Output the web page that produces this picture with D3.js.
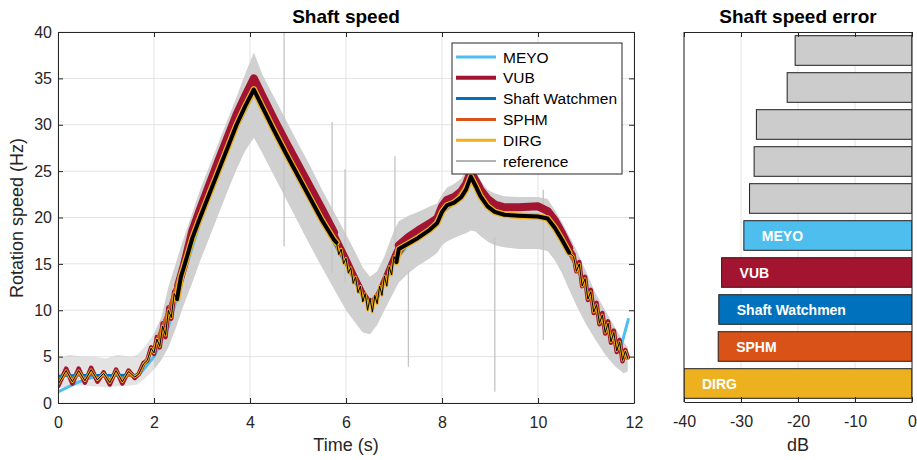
<!DOCTYPE html>
<html><head><meta charset="utf-8">
<script src="https://cdn.jsdelivr.net/npm/d3@7"></script>
<style>
body{margin:0;background:#fff}
svg{display:block}
text{font-family:"Liberation Sans",Arial,Helvetica,sans-serif}
</style>
</head><body>
<svg id="chart" width="917" height="460"></svg>
<script>
// ---------- DATA ----------
// reference (gray) band: envelope
const refTime = [0,0.25,0.5,0.75,1.0,1.25,1.5,1.65,1.8,2.0,2.15,2.3,2.45,2.6,2.8,2.96,3.15,3.34,3.53,3.72,3.9,4.08,4.25,4.5,4.75,5.0,5.25,5.5,5.75,6.0,6.2,6.35,6.5,6.65,6.8,7.0,7.1,7.3,7.5,7.75,7.9,8.0,8.1,8.25,8.4,8.5,8.6,8.7,8.8,8.95,9.1,9.3,9.6,10.0,10.2,10.35,10.5,10.65,10.8,11.0,11.2,11.4,11.6,11.78,11.87];
const refUpper = [4.8,5.2,5.0,5.0,4.8,5.2,5.0,5.2,6.0,7.5,9.2,12.5,15.0,17.5,20.5,23.0,25.5,28.0,30.5,33.0,35.5,37.8,35.5,33.0,30.5,28.0,25.6,23.0,20.6,18.2,16.2,14.6,13.6,14.2,15.8,18.6,19.6,20.2,20.6,21.2,21.5,22.5,23.2,23.6,24.2,25.0,26.2,25.0,24.0,23.0,22.6,22.3,22.2,22.2,22.0,20.8,19.5,18.0,16.5,14.2,11.8,10.0,8.2,6.6,6.0];
const refLower = [1.6,1.8,1.9,1.8,1.7,1.8,1.9,2.0,2.6,3.6,4.6,6.0,8.0,10.3,13.0,15.3,17.8,20.3,22.8,25.2,27.2,28.6,27.0,24.5,22.0,19.5,17.0,14.6,12.3,10.0,8.6,7.6,7.4,8.4,10.0,12.0,13.0,14.0,14.8,15.6,16.2,17.0,17.4,17.8,18.1,18.3,18.6,18.5,18.0,17.4,17.0,16.8,16.6,16.6,16.4,15.4,14.0,12.2,10.5,8.5,6.8,5.2,4.0,3.2,3.4];
// isolated spikes of the reference signal
const spikeTime = [4.71,5.71,5.98,7.02,7.30,9.10,10.11];
const spikeLow  = [16.9,14.0,13.0,17.2,3.9,1.2,6.8];
const spikeHigh = [40.0,30.3,25.2,26.6,14.3,17.9,23.0];

// estimator core (DIRG / reference estimate)
const coreTime = [0,0.08,0.17,0.30,0.43,0.56,0.69,0.82,0.95,1.08,1.21,1.34,1.47,1.60,1.68,1.78,1.86,1.94,2.00,2.06,2.12,2.18,2.24,2.30,2.36,2.42,2.48,2.56,2.62,2.70,2.80,2.96,3.15,3.34,3.53,3.72,3.90,4.08,4.25,4.50,4.75,5.00,5.25,5.50,5.75,5.80,5.85,5.90,5.95,6.00,6.05,6.10,6.15,6.20,6.25,6.30,6.35,6.40,6.45,6.50,6.55,6.60,6.65,6.70,6.75,6.80,6.85,6.90,6.95,7.00,7.05,7.10,7.30,7.50,7.75,7.90,8.00,8.10,8.25,8.40,8.50,8.60,8.70,8.80,8.95,9.10,9.30,9.60,10.00,10.20,10.35,10.50,10.65,10.74,10.80,10.86,10.92,10.98,11.04,11.10,11.16,11.22,11.28,11.34,11.40,11.46,11.52,11.58,11.64,11.70,11.76,11.82,11.87];
const coreSpeed = [2.0,2.7,3.5,2.3,3.5,2.4,3.6,2.5,3.2,2.2,3.5,2.3,3.4,2.8,3.1,4.2,4.6,5.9,5.4,6.9,6.1,8.3,7.3,10.0,9.2,11.8,11.2,13.6,14.6,16.0,17.8,20.0,22.5,25.0,27.5,30.0,32.0,33.8,32.0,29.4,26.9,24.5,22.1,19.7,17.6,17.3,16.0,16.6,15.0,15.6,14.0,14.6,12.9,13.6,11.9,12.6,10.9,11.8,10.0,11.3,9.8,11.6,10.7,12.6,11.6,13.7,12.6,14.7,13.8,15.8,15.2,16.6,17.2,17.8,18.7,19.4,20.6,21.3,21.6,22.2,23.0,24.4,23.4,22.3,21.2,20.6,20.3,20.2,20.1,19.9,18.9,17.6,16.2,15.8,14.2,15.0,12.6,13.4,11.2,12.0,9.8,10.6,8.6,9.5,7.6,8.6,6.6,7.6,5.6,6.6,4.6,5.6,4.8];

const vubTime = [0,0.08,0.17,0.30,0.43,0.56,0.69,0.82,0.95,1.08,1.21,1.34,1.47,1.60,1.68,1.78,1.86,1.94,2.00,2.06,2.12,2.18,2.24,2.30,2.36,2.42,2.50,2.62,2.80,2.96,3.15,3.34,3.53,3.72,3.90,4.08,4.25,4.50,4.75,5.00,5.25,5.50,5.75,6.00,6.20,6.35,6.50,6.65,6.80,7.00,7.10,7.30,7.50,7.75,7.90,8.00,8.10,8.25,8.40,8.50,8.60,8.70,8.80,8.95,9.10,9.30,9.60,10.00,10.20,10.35,10.50,10.65,10.74,10.80,10.86,10.92,10.98,11.04,11.10,11.16,11.22,11.28,11.34,11.40,11.46,11.52,11.58,11.64,11.70,11.76,11.82,11.87];
const vubSpeed = [1.8,2.7,3.7,2.1,3.7,2.2,3.8,2.3,3.3,2.0,3.6,2.1,3.5,2.7,3.1,4.3,4.6,6.0,5.3,7.1,6.0,8.6,7.1,10.3,9.1,12.0,12.6,14.8,18.6,20.9,23.5,26.1,28.6,31.1,33.1,35.0,33.2,30.6,28.1,25.7,23.3,20.9,18.4,15.8,13.6,12.0,10.8,11.5,13.4,15.9,17.0,17.9,18.6,19.4,19.9,21.2,21.9,22.2,22.8,23.6,24.9,24.0,23.0,22.0,21.4,21.1,21.1,21.2,20.7,19.7,18.3,16.7,16.0,14.2,15.2,12.6,13.6,11.1,12.2,9.7,10.8,8.5,9.7,7.5,8.8,6.5,7.8,5.5,6.8,4.5,5.7,4.9];

const meyoTime = [0,0.2,0.4,0.6,0.8,1.0,1.3,1.6,1.7,2.0,2.3,2.6,2.96,3.34,3.72,4.08,4.5,5.0,5.5,6.0,6.35,6.5,6.8,7.0,7.3,7.75,8.0,8.25,8.6,8.8,9.1,9.6,10.2,10.5,10.8,11.2,11.5,11.65,11.74,11.88];
const meyoSpeed = [1.2,1.7,2.2,2.6,2.85,2.95,3.0,3.0,3.1,5.0,8.2,13.5,19.5,24.6,29.6,33.4,29.3,24.4,19.6,14.9,11.5,10.7,12.9,15.2,17.1,18.6,20.5,21.5,24.2,22.2,20.5,20.1,19.9,17.6,14.7,10.0,7.6,6.5,6.3,9.0];

const swTime = [0,0.4,0.8,1.2,1.6,1.7,1.8,2.0,2.3,2.6,2.96,3.34,3.72,4.08,4.5,5.0,5.5,6.0,6.35,6.5,6.8,7.0,7.3,7.75,8.0,8.25,8.6,8.8,9.1,9.6,10.2,10.5,10.8,11.2,11.6,11.87];
const swSpeed = [2.9,3.0,3.0,3.0,3.0,3.1,4.3,6.0,10.0,15.0,20.0,25.0,30.0,33.8,29.4,24.5,19.7,15.0,11.5,10.6,13.0,15.3,17.2,18.7,20.6,21.6,24.4,22.3,20.6,20.2,19.9,17.6,14.7,10.0,6.5,4.8];

const sphmTime = [0,0.17,0.30,0.43,0.56,0.69,0.82,0.95,1.08,1.21,1.34,1.47,1.60,1.70,1.8,2.0,2.3,2.6,2.96,3.34,3.72,4.08,4.5,5.0,5.5,6.0,6.35,6.5,6.8,7.0,7.3,7.75,8.0,8.25,8.6,8.8,9.1,9.6,10.2,10.5,10.8,11.2,11.6,11.87];
const sphmSpeed = [2.3,3.1,2.5,3.1,2.6,3.2,2.6,3.0,2.5,3.1,2.6,3.0,2.9,3.1,4.3,6.0,10.0,15.0,20.0,25.0,30.0,33.8,29.4,24.5,19.7,15.0,11.5,10.6,13.0,15.3,17.2,18.7,20.6,21.6,24.4,22.3,20.6,20.2,19.9,17.6,14.7,10.0,6.5,4.8];

// legend / series names
const seriesNames = ["MEYO","VUB","Shaft Watchmen","SPHM","DIRG","reference"];
const seriesColors = ["#4DBEEE","#A2142F","#0072BD","#D95319","#EDB120","#666666"];

// error bar chart
const errCategories = ["P1","P2","P3","P4","P5","MEYO","VUB","Shaft Watchmen","SPHM","DIRG"];
const errValues = [-20.5,-21.9,-27.3,-27.7,-28.5,-29.5,-33.4,-33.9,-34.0,-40.0];

// ticks
const xTicks = [0,2,4,6,8,10,12];
const yTicks = [0,5,10,15,20,25,30,35,40];
const dbTicks = [-40,-30,-20,-10,0];

// ---------- DRAW ----------
const AX = "#262626", GRID = "#e3e3e3";
const svg = d3.select("#chart");
const zip = (ts, vs) => ts.map((t, i) => ({t, v: vs[i]}));

const x = d3.scaleLinear().domain([0, 12]).range([58, 634]);
const y = d3.scaleLinear().domain([0, 40]).range([403, 32]);

svg.append("defs").append("clipPath").attr("id", "clipL")
  .append("rect").attr("x", 58).attr("y", 32).attr("width", 576).attr("height", 371);

// grid
const gL = svg.append("g");
gL.selectAll(".gx").data(xTicks).join("line")
  .attr("x1", d => x(d)).attr("x2", d => x(d)).attr("y1", 32).attr("y2", 403)
  .attr("stroke", GRID).attr("stroke-width", 1);
gL.selectAll(".gy").data(yTicks).join("line")
  .attr("y1", d => y(d)).attr("y2", d => y(d)).attr("x1", 58).attr("x2", 634)
  .attr("stroke", GRID).attr("stroke-width", 1);

const plot = svg.append("g").attr("clip-path", "url(#clipL)");

// reference band (sparser-looking at low speed)
const band = refTime.map((t, i) => ({t, lo: refLower[i], hi: refUpper[i]}));
const areaGen = d3.area().x(d => x(d.t)).y0(d => y(d.lo)).y1(d => y(d.hi));
plot.append("path").datum(band.filter(d => d.t <= 2.0))
  .attr("d", areaGen).attr("fill", "#d0d0d0").attr("fill-opacity", 0.6);
plot.append("path").datum(band.filter(d => d.t >= 2.0))
  .attr("d", areaGen).attr("fill", "#d0d0d0");
plot.selectAll(".spike").data(spikeTime).join("line")
  .attr("x1", d => x(d)).attr("x2", d => x(d))
  .attr("y1", (d, i) => y(spikeLow[i])).attr("y2", (d, i) => y(spikeHigh[i]))
  .attr("stroke", "#c4c4c4").attr("stroke-width", 1.3);

const midRanges = [[2.45, 5.82], [7.05, 10.7]];
const inMid = t => midRanges.some(([a, b]) => t >= a && t <= b);

function drawLine(data, color, width, defined) {
  const gen = d3.line().x(d => x(d.t)).y(d => y(d.v));
  if (defined) gen.defined(defined);
  plot.append("path").datum(data).attr("d", gen)
    .attr("fill", "none").attr("stroke", color).attr("stroke-width", width)
    .attr("stroke-linejoin", "round").attr("stroke-linecap", "round");
}

const core = zip(coreTime, coreSpeed);
const vub = zip(vubTime, vubSpeed);
drawLine(zip(meyoTime, meyoSpeed), seriesColors[0], 3);
drawLine(vub, seriesColors[1], 4.5);
drawLine(vub, seriesColors[1], 8, d => inMid(d.t));
drawLine(zip(swTime, swSpeed), seriesColors[2], 2.5);
drawLine(zip(sphmTime, sphmSpeed), seriesColors[3], 2.5);
drawLine(core, seriesColors[4], 2.6);
drawLine(core, seriesColors[4], 6.5, d => inMid(d.t));
drawLine(core, "#000000", 1);
drawLine(core, "#000000", 4, d => inMid(d.t));

// axes (left panel)
function styleAxis(g) {
  g.selectAll("path,line").attr("stroke", AX).attr("stroke-width", 1);
  g.selectAll("text").attr("fill", AX).attr("font-size", 16)
    .attr("font-family", '"Liberation Sans",Arial,sans-serif');
}
svg.append("g").attr("transform", "translate(0,403)")
  .call(d3.axisBottom(x).tickValues(xTicks).tickSize(-5).tickSizeOuter(0).tickPadding(14).tickFormat(d => String(d)))
  .call(styleAxis);
svg.append("g").attr("transform", "translate(0,32)")
  .call(d3.axisTop(x).tickValues(xTicks).tickSize(-5).tickSizeOuter(0).tickFormat(""))
  .call(styleAxis);
svg.append("g").attr("transform", "translate(58,0)")
  .call(d3.axisLeft(y).tickValues(yTicks).tickSize(-5).tickSizeOuter(0).tickPadding(6).tickFormat(d => String(d)))
  .call(styleAxis);
svg.append("g").attr("transform", "translate(634,0)")
  .call(d3.axisRight(y).tickValues(yTicks).tickSize(-5).tickSizeOuter(0).tickFormat(""))
  .call(styleAxis);

// legend
const lg = svg.append("g");
lg.append("rect").attr("x", 452).attr("y", 43).attr("width", 170).attr("height", 131)
  .attr("fill", "#fff").attr("stroke", AX).attr("stroke-width", 1);
const legW = [3, 4, 3, 3, 3, 1.2];
seriesNames.forEach((n, i) => {
  const cy = 57 + i * 20.8;
  lg.append("line").attr("x1", 456).attr("x2", 496).attr("y1", cy).attr("y2", cy)
    .attr("stroke", seriesColors[i]).attr("stroke-width", legW[i]);
  lg.append("text").attr("x", 503).attr("y", cy).attr("dy", "0.36em")
    .attr("font-size", 15.5).attr("fill", "#000").text(n);
});

// titles & labels (left)
svg.append("text").attr("x", 346).attr("y", 23).attr("text-anchor", "middle")
  .attr("font-size", 19).attr("font-weight", "bold").attr("fill", "#000").text("Shaft speed");
svg.append("text").attr("x", 346).attr("y", 451).attr("text-anchor", "middle")
  .attr("font-size", 18).attr("fill", AX).text("Time (s)");
svg.append("text").attr("transform", "translate(23,218) rotate(-90)").attr("text-anchor", "middle")
  .attr("font-size", 18).attr("fill", AX).text("Rotation speed (Hz)");

// ---------- RIGHT PANEL ----------
const xr = d3.scaleLinear().domain([-40, 0]).range([684, 912]);
const yb = d3.scaleBand().domain(errCategories).range([32, 402]).paddingInner(0.2).paddingOuter(0.1);
svg.append("defs").append("clipPath").attr("id", "clipR")
  .append("rect").attr("x", 684).attr("y", 32).attr("width", 228).attr("height", 370);

svg.append("g").selectAll("line").data(dbTicks).join("line")
  .attr("x1", d => xr(d)).attr("x2", d => xr(d)).attr("y1", 32).attr("y2", 402)
  .attr("stroke", GRID).attr("stroke-width", 1);

const colorOf = n => {
  const i = seriesNames.indexOf(n);
  return i >= 0 ? seriesColors[i] : "#cccccc";
};
const bars = svg.append("g").attr("clip-path", "url(#clipR)");
bars.selectAll("rect").data(errCategories).join("rect")
  .attr("x", (d, i) => xr(errValues[i])).attr("y", d => yb(d))
  .attr("width", (d, i) => xr(0) - xr(errValues[i])).attr("height", yb.bandwidth())
  .attr("fill", d => colorOf(d)).attr("stroke", "#1f1f1f").attr("stroke-width", 1);
bars.selectAll("text").data(errCategories.filter(d => seriesNames.includes(d))).join("text")
  .attr("x", d => xr(errValues[errCategories.indexOf(d)]) + 18)
  .attr("y", d => yb(d) + yb.bandwidth() / 2).attr("dy", "0.36em")
  .attr("font-size", 14).attr("font-weight", "bold").attr("fill", "#fff").text(d => d);

svg.append("g").attr("transform", "translate(0,402)")
  .call(d3.axisBottom(xr).tickValues(dbTicks).tickSize(-5).tickSizeOuter(0).tickPadding(14).tickFormat(d => String(d)))
  .call(styleAxis);
svg.append("g").attr("transform", "translate(0,32)")
  .call(d3.axisTop(xr).tickValues(dbTicks).tickSize(-5).tickSizeOuter(0).tickFormat(""))
  .call(styleAxis);
svg.append("line").attr("x1", 684).attr("x2", 684).attr("y1", 32).attr("y2", 402)
  .attr("stroke", AX).attr("stroke-width", 1);
svg.append("line").attr("x1", 912).attr("x2", 912).attr("y1", 32).attr("y2", 402)
  .attr("stroke", AX).attr("stroke-width", 1);

svg.append("text").attr("x", 798).attr("y", 23).attr("text-anchor", "middle")
  .attr("font-size", 19).attr("font-weight", "bold").attr("fill", "#000").text("Shaft speed error");
svg.append("text").attr("x", 798).attr("y", 451).attr("text-anchor", "middle")
  .attr("font-size", 18).attr("fill", AX).text("dB");
</script>
</body></html>
